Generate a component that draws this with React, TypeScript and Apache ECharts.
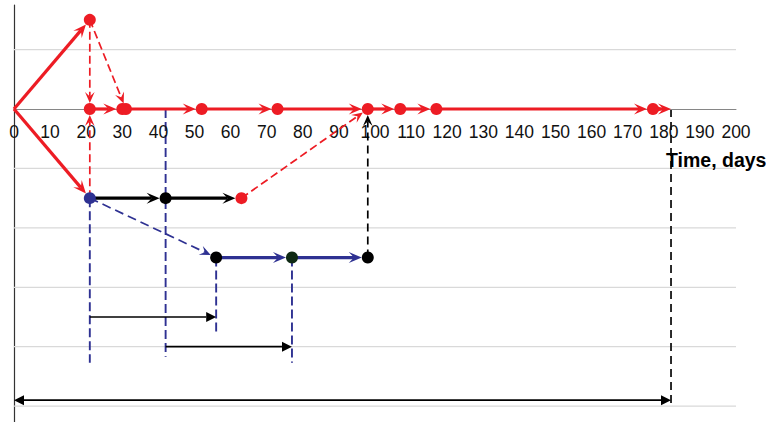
import React, { useEffect, useRef } from "react";
import * as echarts from "echarts";

// ---- data ----
const xMin = 0;
const xMax = 200;
const xStep = 10;
const yMin = -5.267;
const yMax = 1.75;
const gridValues = [1, -1, -2, -3, -4, -5];
const axisName = "Time, days";

// nodes [time, level]
const redNodes = [
  [21, 1.5], [21, 0], [30, 0], [31, 0], [52, 0], [73, 0], [98, 0],
  [107, 0], [117, 0], [177, 0], [63, -1.5],
];
const blueNodes = [[21, -1.5]];
const blackNodes = [[42, -1.5], [56, -2.5], [98, -2.5]];
const greenNodes = [[77, -2.5]];

// edges [x1, y1, x2, y2]
const redSolidEdges = [
  [0, 0, 21, 1.5], [0, 0, 21, -1.5], [21, 0, 30, 0], [31, 0, 52, 0],
  [52, 0, 73, 0], [73, 0, 98, 0], [98, 0, 107, 0], [107, 0, 117, 0],
  [117, 0, 177, 0], [177, 0, 180, 0], [177, 0, 182, 0],
];
const redDashedEdges = [
  [21, 1.5, 21, 0], [21, -1.5, 21, 0], [21, 1.5, 31, 0], [63, -1.5, 98, 0],
];
const blackSolidEdges = [[21, -1.5, 42, -1.5], [42, -1.5, 63, -1.5]];
const navySolidEdges = [[56, -2.5, 77, -2.5], [77, -2.5, 98, -2.5]];
const blueDashedEdges = [[21, -1.5, 56, -2.5]];
const blueDashedLines = [
  [21, -1.5, 21, -4.27], [42, 0, 42, -4.17], [56, -2.5, 56, -3.76], [77, -2.5, 77, -4.27],
];
const blackDashedEdges = [[98, -2.5, 98, 0]];
const blackDashedLines = [[182, 0, 182, -5.03]];
const spanArrows = [[21, -3.5, 56, -3.5], [42, -4, 77, -4]];
const doubleSpanArrows = [[0, -4.9, 182, -4.9]];

// ---- styles ----
const RED = "#ed1c24";
const NAVY = "#2e3192";
const FONT = "'Liberation Sans', Arial, sans-serif";
const NODE_SIZE = 12;

const allNodes = [...redNodes, ...blueNodes, ...blackNodes, ...greenNodes];
const isNode = (x: number, y: number) =>
  allNodes.some((n) => n[0] === x && n[1] === y);

type EdgeOpts = {
  color: string;
  width: number;
  dash?: number[];
  head: "stealth" | "triangle" | "none";
  both?: boolean;
  L?: number;
  W?: number;
  z?: number;
};

function headAt(tip: number[], u: number[], L: number, W: number, notch: number) {
  const n = [-u[1], u[0]];
  const back = [tip[0] - L * u[0], tip[1] - L * u[1]];
  const mid = [tip[0] - notch * L * u[0], tip[1] - notch * L * u[1]];
  return {
    points: [
      tip,
      [back[0] + W * n[0], back[1] + W * n[1]],
      mid,
      [back[0] - W * n[0], back[1] - W * n[1]],
    ],
    base: mid,
  };
}

function edgeSeries(name: string, data: number[][], o: EdgeOpts) {
  return {
    type: "custom",
    name,
    data,
    silent: true,
    xAxisIndex: 0,
    yAxisIndex: 0,
    z: o.z ?? 3,
    encode: { x: [0, 2], y: [1, 3] },
    renderItem: (_params: any, api: any) => {
      const x1 = api.value(0), y1 = api.value(1), x2 = api.value(2), y2 = api.value(3);
      const a = api.coord([x1, y1]);
      const b = api.coord([x2, y2]);
      const dx = b[0] - a[0], dy = b[1] - a[1];
      const len = Math.sqrt(dx * dx + dy * dy) || 1;
      const u = [dx / len, dy / len];
      const L = o.L ?? 13;
      const W = o.W ?? 5.5;
      const notch = o.head === "triangle" ? 1 : 0.6;
      let start = a;
      let end = b;
      const children: any[] = [];
      if (o.head !== "none") {
        const gap = isNode(x2, y2) ? NODE_SIZE / 2 : 0;
        const tip = [b[0] - gap * u[0], b[1] - gap * u[1]];
        const h = headAt(tip, u, L, W, notch);
        end = h.base;
        children.push({ type: "polygon", shape: { points: h.points }, style: { fill: o.color } });
        if (o.both) {
          const gap0 = isNode(x1, y1) ? NODE_SIZE / 2 : 0;
          const tip0 = [a[0] + gap0 * u[0], a[1] + gap0 * u[1]];
          const h0 = headAt(tip0, [-u[0], -u[1]], L, W, notch);
          start = h0.base;
          children.push({ type: "polygon", shape: { points: h0.points }, style: { fill: o.color } });
        }
      }
      children.unshift({
        type: "line",
        shape: { x1: start[0], y1: start[1], x2: end[0], y2: end[1] },
        style: { stroke: o.color, lineWidth: o.width, lineDash: o.dash, fill: null },
      });
      return { type: "group", children };
    },
  };
}

function nodeSeries(name: string, data: number[][], color: string) {
  return {
    type: "scatter",
    name,
    data,
    xAxisIndex: 0,
    yAxisIndex: 0,
    symbol: "circle",
    symbolSize: NODE_SIZE,
    itemStyle: { color, opacity: 1 },
    z: 6,
    silent: true,
  };
}

export default function App() {
  const ref = useRef<HTMLDivElement>(null);
  useEffect(() => {
    if (!ref.current) return;
    const chart = echarts.init(ref.current, undefined, { renderer: "svg" });
    chart.setOption({
      animation: false,
      backgroundColor: "#ffffff",
      grid: [
        { left: 14, right: 30, top: 5, bottom: 0, containLabel: false, outerBoundsMode: "none" },
        // upper band: its bottom edge is the time axis (level 0)
        { left: 14, right: 30, top: 5, height: 104, containLabel: false, outerBoundsMode: "none" },
      ],
      xAxis: [
        {
          type: "value",
          gridIndex: 0,
          min: xMin,
          max: xMax,
          interval: xStep,
          axisLine: { show: false },
          axisTick: { show: false },
          splitLine: { show: false },
          axisLabel: { show: false },
        },
        {
          type: "value",
          gridIndex: 1,
          min: xMin,
          max: xMax,
          interval: xStep,
          position: "bottom",
          axisLine: { show: true, onZero: false, lineStyle: { color: "#868686", width: 1 } },
          axisTick: { show: false },
          splitLine: { show: false },
          axisLabel: {
            fontSize: 17.5,
            color: "#111",
            fontFamily: FONT,
            margin: 14,
            showMinLabel: true,
            showMaxLabel: true,
          },
          z: 2,
        },
      ],
      yAxis: [
        {
          type: "value",
          gridIndex: 0,
          min: yMin,
          max: yMax,
          axisLine: { show: true, onZero: false, lineStyle: { color: "#333", width: 1.2 } },
          axisTick: { show: false },
          axisLabel: { show: false },
          splitLine: { show: false },
        },
        {
          type: "value",
          gridIndex: 1,
          min: 0,
          max: yMax,
          show: false,
        },
      ],
      graphic: [
        {
          type: "text",
          left: 666,
          top: 150,
          z: 10,
          style: { text: axisName, fontSize: 19.5, fontWeight: "bold", fill: "#000", fontFamily: FONT },
        },
      ],
      series: [
        {
          type: "custom",
          name: "grid",
          data: gridValues.map((v) => [v]),
          xAxisIndex: 0,
          yAxisIndex: 0,
          silent: true,
          z: 1,
          renderItem: (_p: any, api: any) => {
            const v = api.value(0);
            const a = api.coord([xMin, v]);
            const b = api.coord([xMax, v]);
            return {
              type: "line",
              shape: { x1: a[0], y1: a[1], x2: b[0], y2: b[1] },
              style: { stroke: "#d9d9d9", lineWidth: 1.2 },
            };
          },
        },
        edgeSeries("blueDashedLines", blueDashedLines, { color: NAVY, width: 1.9, dash: [9, 4], head: "none", z: 2 }),
        edgeSeries("blackDashedLines", blackDashedLines, { color: "#222", width: 1.9, dash: [8, 5], head: "none", z: 2 }),
        edgeSeries("spanArrows", spanArrows, { color: "#000", width: 1.7, head: "triangle", L: 10, W: 5 }),
        edgeSeries("doubleSpanArrows", doubleSpanArrows, { color: "#000", width: 1.7, head: "triangle", both: true, L: 10, W: 5 }),
        edgeSeries("redDashed", redDashedEdges, { color: RED, width: 1.7, dash: [8, 4], head: "stealth", L: 11, W: 4.8 }),
        edgeSeries("blueDashed", blueDashedEdges, { color: NAVY, width: 1.7, dash: [9, 5], head: "stealth", L: 11, W: 4.8 }),
        edgeSeries("blackDashed", blackDashedEdges, { color: "#000", width: 1.7, dash: [8, 5], head: "stealth", L: 11, W: 4.8 }),
        edgeSeries("blackSolid", blackSolidEdges, { color: "#000", width: 3.2, head: "stealth" }),
        edgeSeries("navySolid", navySolidEdges, { color: NAVY, width: 3.2, head: "stealth" }),
        edgeSeries("redSolid", redSolidEdges, { color: RED, width: 3.2, head: "stealth", z: 4 }),
        nodeSeries("redNodes", redNodes, RED),
        nodeSeries("blueNodes", blueNodes, NAVY),
        nodeSeries("blackNodes", blackNodes, "#000"),
        nodeSeries("greenNodes", greenNodes, "#0f2a14"),
      ],
    });
    return () => chart.dispose();
  }, []);
  return (
    <div
      ref={ref}
      style={{ position: "fixed", left: 0, top: 0, width: 766, height: 422, background: "#fff" }}
    />
  );
}
